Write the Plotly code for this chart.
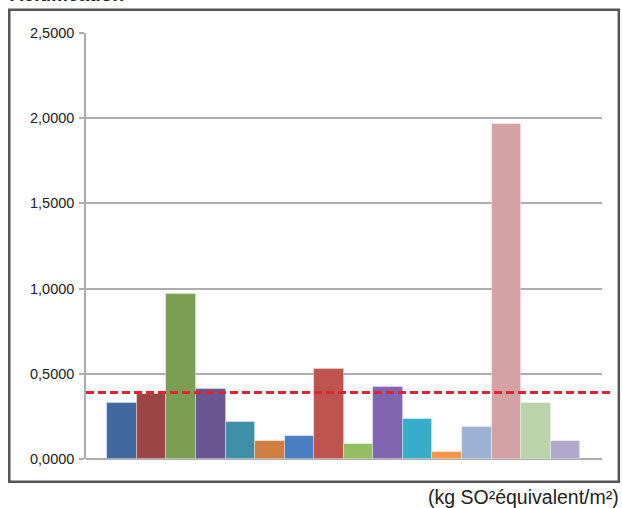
import plotly.graph_objects as go

# Acidification results per system (kg SO2 equivalent per m²)
systems = [f"S{i}" for i in range(1, 17)]
values = [0.329, 0.383, 0.970, 0.411, 0.217, 0.106, 0.135, 0.528,
          0.088, 0.420, 0.235, 0.041, 0.190, 1.966, 0.329, 0.106]
colors = ["#41699E", "#9B4644", "#7A9F52", "#6A5690", "#3E8FA7", "#CF7F3F",
          "#4A7EC3", "#BE5350", "#95BD62", "#7F66AE", "#38ADC9", "#F7964A",
          "#9EB2D6", "#D4A1A4", "#BAD3AB", "#B1A9CB"]
reference_value = 0.390

y_ticks = [0, 0.5, 1.0, 1.5, 2.0, 2.5]
title_text = "Acidification"
unit_text = "(kg SO²équivalent/m²)"

grid = "#ADADAD"
font_family = "Liberation Sans"

fig = go.Figure(
    go.Bar(
        x=list(range(len(systems))),
        y=values,
        width=1.0,
        marker=dict(color=colors, line=dict(color="rgba(255,255,255,0.45)", width=0.8)),
        hovertext=systems,
        showlegend=False,
    )
)

fig.update_layout(
    width=622,
    height=508,
    margin=dict(l=86, r=20.3, t=33.3, b=48.7),
    paper_bgcolor="white",
    plot_bgcolor="white",
    separators=", ",
    bargap=0,
    font=dict(family=font_family, color="#222222"),
    xaxis=dict(
        range=[-1.221, 16.235],
        showticklabels=False,
        showgrid=False,
        zeroline=False,
        showline=False,
        ticks="",
    ),
    yaxis=dict(
        range=[0, 2.5],
        tickvals=y_ticks,
        tickformat=".4f",
        showgrid=True,
        gridcolor=grid,
        gridwidth=1.5,
        zeroline=True,
        zerolinecolor=grid,
        zerolinewidth=1.5,
        showline=True,
        linecolor=grid,
        linewidth=1.5,
        ticks="outside",
        ticklen=5,
        tickwidth=1.5,
        tickcolor=grid,
        ticklabelstandoff=2,
        tickfont=dict(family=font_family, size=14.5, color="#222222"),
    ),
)

# Reference threshold drawn as a dashed red line across the plot
fig.add_shape(
    type="line",
    xref="paper", yref="y",
    x0=0, x1=1.0194,
    y0=reference_value, y1=reference_value,
    line=dict(color="#DC2530", width=3, dash="8px,4px"),
    layer="above",
)

# Outer chart frame
fig.add_shape(
    type="rect",
    xref="paper", yref="paper",
    x0=-0.1487, x1=1.0326, y0=-0.0533, y1=1.0547,
    line=dict(color="#555555", width=2.5),
    fillcolor="rgba(0,0,0,0)",
    layer="below",
)

# Chart title (sits above the frame)
fig.add_annotation(
    text=f"<b>{title_text}</b>",
    xref="paper", yref="paper",
    x=-0.1518, y=1.0600,
    xanchor="left", yanchor="bottom",
    showarrow=False,
    font=dict(family=font_family, size=19, color="#222222"),
)

# Unit label below the frame
fig.add_annotation(
    text=unit_text,
    xref="paper", yref="paper",
    x=1.0369, y=-0.0885,
    xanchor="right", yanchor="middle",
    showarrow=False,
    font=dict(family=font_family, size=19.5, color="#222222"),
)

fig.write_html("out.html")
